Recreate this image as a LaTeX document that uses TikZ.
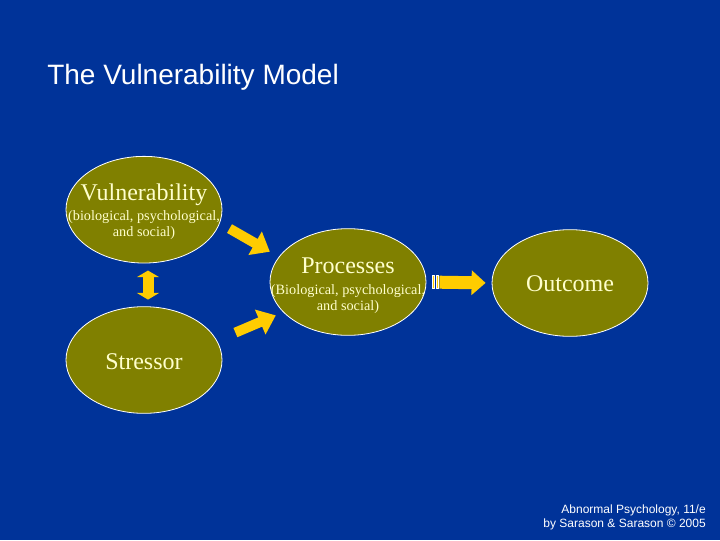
\documentclass[tikz,border=0pt]{standalone}
\usepackage{fontspec}
\setmainfont{Liberation Serif}
\setsansfont{Liberation Sans}
\usepackage{xcolor}
\usepackage{tikz}
\usetikzlibrary{shapes.geometric,arrows.meta,calc}

\definecolor{slideblue}{RGB}{0,51,153}
\definecolor{blobolive}{RGB}{128,128,0}
\definecolor{paleyellow}{RGB}{255,255,204}
\definecolor{arrowgold}{RGB}{255,204,0}
\newcommand{\blobhead}[1]{{\fontsize{18}{21}\selectfont #1}}

\begin{document}
\begin{tikzpicture}[
            x=0.75pt, y=-0.75pt,
            blob/.style={ellipse, draw=white, line width=0.6pt, fill=blobolive, minimum width=117pt, minimum height=80pt, inner sep=0pt},
            blobtext/.style={text=paleyellow, align=center, inner sep=0pt, font=\fontsize{10.7}{12}\selectfont},
            fatarrow/.style={draw=arrowgold, line width=7.5pt, -{Triangle[length=12.75pt, width=19.5pt]}},
            flatarrow/.style={draw=arrowgold, line width=9.75pt, -{Triangle[length=10.5pt, width=18pt]}},
            twoway/.style={draw=arrowgold, line width=8.25pt, {Triangle[length=5pt, width=16.5pt]}-{Triangle[length=5pt, width=16.5pt]}}
        ]
            \fill[slideblue] (0,0) rectangle (720,540);
            \node[anchor=base west, inner sep=0pt, text=white, font=\sffamily\fontsize{21}{25}\selectfont] (title) at (47,84) {The Vulnerability Model};

            % the four ellipses
            \node[blob] (vul) at (144,209.7) {};
            \node[blob] (str) at (144,360) {};
            \node[blob] (proc) at (348,282) {};
            \node[blob] (out) at (570,283) {};

            \node[blobtext] (vultext) at ($(vul)+(0,2)$) {\blobhead{Vulnerability}\\[3.5pt](biological, psychological,\\and social)};
            \node[blobtext] (strtext) at ($(str)+(0,1.5)$) {\blobhead{Stressor}};
            \node[blobtext] (proctext) at ($(proc)+(0,3.5)$) {\blobhead{Processes}\\[3.5pt](Biological, psychological,\\and social)};
            \node[blobtext] (outtext) at ($(out)+(0,1)$) {\blobhead{Outcome}};

            % arrows
            \draw[fatarrow, shorten <=8.3pt, shorten >=7.7pt] (vul.-10) -- (proc.160);
            \draw[fatarrow, shorten <=15pt, shorten >=6pt] (str.15) -- (proc.205);
            \draw[twoway, shorten <=5.3pt, shorten >=5pt] ([xshift=3pt]vul.south) -- ([xshift=3pt]str.north);
            \draw[flatarrow, shorten <=9.75pt, shorten >=4.5pt] (proc.east) -- (out.west);
            \filldraw[arrowgold, draw=white, line width=0.4pt] ($(proc.east)+(6,-6.5)$) rectangle ++(2,13);
            \filldraw[arrowgold, draw=white, line width=0.4pt] ($(proc.east)+(9.5,-6.5)$) rectangle ++(2,13);

            \node[anchor=north east, inner sep=0pt, align=right, text=white, font=\sffamily\fontsize{9}{10.5}\selectfont] (credit) at (706,504.5) {Abnormal Psychology, 11/e\\by Sarason \& Sarason © 2005};
        \end{tikzpicture}
\end{document}
